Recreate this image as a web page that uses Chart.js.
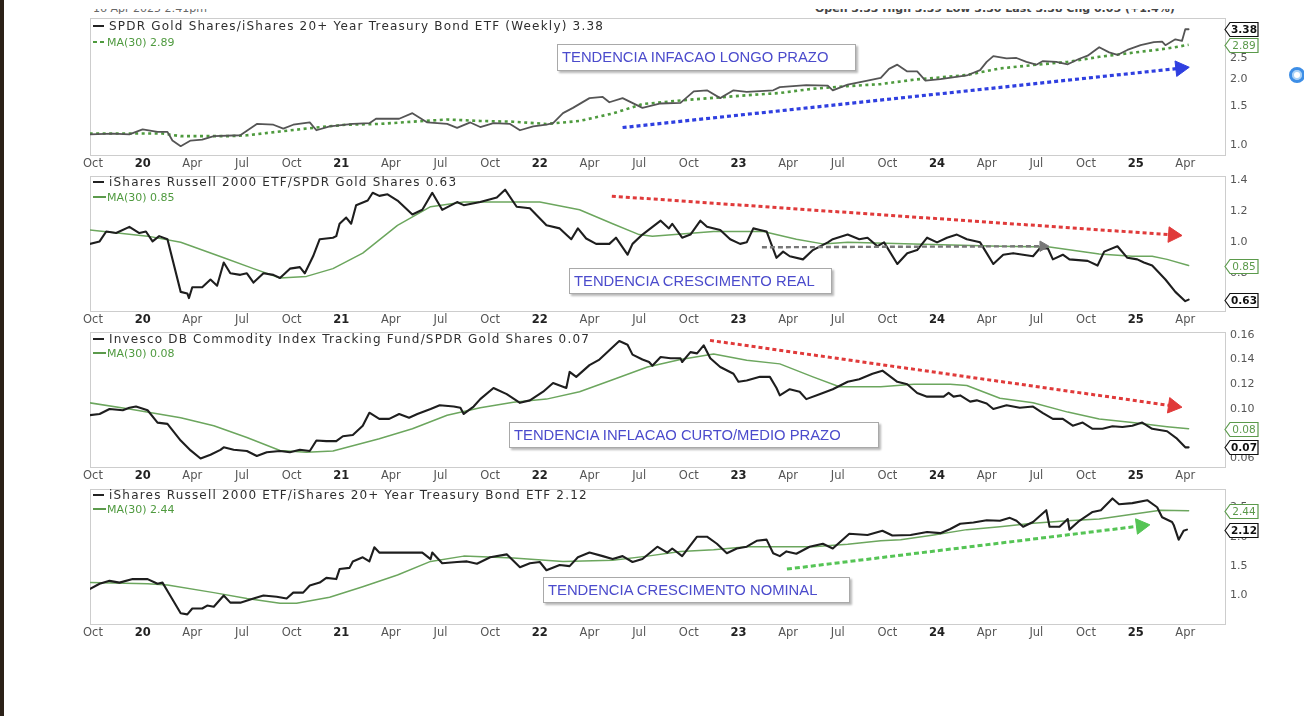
<!DOCTYPE html>
<html>
<head>
<meta charset="utf-8">
<script src="https://cdn.jsdelivr.net/npm/chart.js@4.4.1/dist/chart.umd.min.js"></script>
<style>
html,body{margin:0;padding:0;background:#fff;width:1304px;height:716px;overflow:hidden;}
body{position:relative;font-family:"DejaVu Sans",sans-serif;}
canvas.pc{position:absolute;left:0;}
.leg{position:absolute;left:93px;white-space:nowrap;display:flex;align-items:center;height:14px;}
.leg .t1{font-size:12px;letter-spacing:1.2px;color:#2e2e2e;margin-left:5px;}
.leg .t2{font-size:11px;color:#4f9a3f;margin-left:1px;}
.mk1{width:11px;height:2px;background:#222;}
.mk2{width:13px;height:2px;background:#5b9a4b;}
.mk3{width:13px;height:2px;background:repeating-linear-gradient(90deg,#4e9a3e 0 4px,transparent 4px 7px);}
.box{position:absolute;border:1px solid #a9a9a9;background:#fff;box-shadow:2px 2px 2px rgba(0,0,0,0.28);
 font-family:"Liberation Sans",Arial,sans-serif;font-size:14.8px;color:#4b4bcc;line-height:25px;padding-left:4px;box-sizing:border-box;white-space:nowrap;}
#leftbar{position:absolute;left:0;top:0;width:4px;height:716px;background:#2b2118;}
.clipTop{position:absolute;top:9px;height:6px;overflow:hidden;white-space:nowrap;}
.clipTop span{display:block;margin-top:-7px;font-size:11px;line-height:13px;color:#666;}
#icon{position:absolute;left:1289px;top:67px;width:10px;height:10px;border-radius:50%;border:3px solid #3d8ee6;box-shadow:inset 0 0 0 2px #a9d2f7;}
</style>
</head>
<body>
<div id="leftbar"></div>
<div class="clipTop" style="left:93px;"><span>16 Apr 2025 2:41pm</span></div>
<div class="clipTop" style="left:815px;"><span style="font-weight:bold;color:#444">Open 3.33 High 3.39 Low 3.30 Last 3.38 Chg 0.05 (+1.4%)</span></div>
<div id="icon"></div>

<canvas class="pc" id="p1" width="1304" height="167" style="top:7px"></canvas>
<canvas class="pc" id="p2" width="1304" height="165" style="top:165px"></canvas>
<canvas class="pc" id="p3" width="1304" height="165" style="top:321px"></canvas>
<canvas class="pc" id="p4" width="1304" height="165" style="top:478px"></canvas>

<div class="leg" style="top:19px"><div class="mk1"></div><span class="t1">SPDR Gold Shares/iShares 20+ Year Treasury Bond ETF (Weekly) 3.38</span></div>
<div class="leg" style="top:35px"><div class="mk3"></div><span class="t2">MA(30) 2.89</span></div>
<div class="leg" style="top:175px"><div class="mk1"></div><span class="t1">iShares Russell 2000 ETF/SPDR Gold Shares 0.63</span></div>
<div class="leg" style="top:190px"><div class="mk2"></div><span class="t2">MA(30) 0.85</span></div>
<div class="leg" style="top:332px"><div class="mk1"></div><span class="t1">Invesco DB Commodity Index Tracking Fund/SPDR Gold Shares 0.07</span></div>
<div class="leg" style="top:346px"><div class="mk2"></div><span class="t2">MA(30) 0.08</span></div>
<div class="leg" style="top:488px"><div class="mk1"></div><span class="t1">iShares Russell 2000 ETF/iShares 20+ Year Treasury Bond ETF 2.12</span></div>
<div class="leg" style="top:502px"><div class="mk2"></div><span class="t2">MA(30) 2.44</span></div>

<div class="box" style="left:557px;top:44px;width:299px;height:27px;">TENDENCIA INFACAO LONGO PRAZO</div>
<div class="box" style="left:569px;top:268px;width:263px;height:26px;">TENDENCIA CRESCIMENTO REAL</div>
<div class="box" style="left:509px;top:422px;width:370px;height:26px;">TENDENCIA INFLACAO CURTO/MEDIO PRAZO</div>
<div class="box" style="left:543px;top:577px;width:307px;height:26px;">TENDENCIA CRESCIMENTO NOMINAL</div>

<script>
// ---- x axis: months since Oct 2019 ----
const xTickMonths = [0,3,6,9,12,15,18,21,24,27,30,33,36,39,42,45,48,51,54,57,60,63,66];
const xTickLabels = ['Oct','20','Apr','Jul','Oct','21','Apr','Jul','Oct','22','Apr','Jul','Oct','23','Apr','Jul','Oct','24','Apr','Jul','Oct','25','Apr'];

// ---- y tick values ----
const p1Ticks = [1.0,1.5,2.0,2.5];
const p2Ticks = [0.8,1.0,1.2,1.4];
const p3Ticks = [0.06,0.08,0.10,0.12,0.14,0.16];
const p4Ticks = [1.0,1.5,2.0,2.5];

// ---- series: [month, value] ----
const gldTlt = [[-0.2,1.12],[1.2,1.13],[2.2,1.12],[3.0,1.18],[3.9,1.15],[4.5,1.15],[4.8,1.05],[5.3,0.99],[5.9,1.05],[6.6,1.06],[7.3,1.10],[8.9,1.11],[9.9,1.25],[10.9,1.24],[11.5,1.19],[12.1,1.24],[13.1,1.27],[13.5,1.17],[14.3,1.22],[15.7,1.25],[16.7,1.26],[17.1,1.32],[18.5,1.32],[19.3,1.40],[20.2,1.27],[21.4,1.25],[22.0,1.20],[22.8,1.27],[23.4,1.21],[24.2,1.26],[25.2,1.25],[25.8,1.17],[26.6,1.22],[27.4,1.24],[27.8,1.26],[28.4,1.40],[29.0,1.48],[30.0,1.64],[30.8,1.66],[31.2,1.57],[32.0,1.64],[33.2,1.48],[34.3,1.55],[35.5,1.56],[36.3,1.76],[37.1,1.78],[37.9,1.64],[38.7,1.78],[39.5,1.75],[41.1,1.78],[41.5,1.84],[43.1,1.88],[44.4,1.87],[44.7,1.78],[45.6,1.89],[46.8,1.97],[47.6,2.03],[48.1,2.23],[48.6,2.33],[49.2,2.17],[49.8,2.17],[50.3,1.97],[51.2,2.00],[52.8,2.08],[53.6,2.20],[54.0,2.40],[54.4,2.55],[55.2,2.49],[55.8,2.50],[56.4,2.40],[57.0,2.33],[57.4,2.42],[58.2,2.40],[58.9,2.34],[59.6,2.48],[60.1,2.56],[60.8,2.80],[61.4,2.65],[61.9,2.58],[62.5,2.72],[63.3,2.86],[64.1,2.95],[64.6,2.97],[64.8,2.86],[65.4,3.04],[65.8,2.99],[66.0,3.38],[66.2,3.38]];
const gldTltMa = [[-0.2,1.13],[4.2,1.13],[5.3,1.10],[8.3,1.10],[9.3,1.11],[11.3,1.155],[13.3,1.20],[15.3,1.24],[17.3,1.25],[19.3,1.28],[21.4,1.31],[23.4,1.29],[25.4,1.28],[27.4,1.25],[29.4,1.29],[31.4,1.395],[33.2,1.54],[35.5,1.60],[37.5,1.645],[39.5,1.69],[41.5,1.73],[43.5,1.81],[45.6,1.86],[47.6,1.90],[49.6,1.99],[52.8,2.09],[54.8,2.24],[56.8,2.32],[58.9,2.40],[60.8,2.53],[62.8,2.64],[64.9,2.76],[66.2,2.87]];

const iwmGld = [[-0.2,0.99],[0.4,1.006],[0.8,1.07],[1.4,1.06],[2.2,1.10],[2.8,1.06],[3.2,1.07],[3.6,1.006],[4.0,1.04],[4.5,1.02],[5.3,0.68],[5.7,0.67],[5.8,0.64],[6.0,0.71],[6.6,0.71],[7.1,0.76],[7.5,0.72],[7.9,0.87],[8.3,0.80],[8.9,0.79],[9.3,0.80],[9.7,0.74],[10.3,0.80],[10.9,0.79],[11.3,0.77],[11.9,0.83],[12.5,0.84],[12.8,0.80],[13.3,0.91],[13.7,1.02],[14.5,1.03],[14.7,1.04],[14.9,1.12],[15.3,1.16],[15.6,1.12],[15.9,1.24],[16.6,1.27],[16.9,1.32],[17.3,1.30],[17.8,1.31],[18.4,1.27],[19.3,1.18],[19.9,1.21],[20.5,1.32],[21.1,1.21],[22.0,1.26],[22.4,1.24],[23.4,1.26],[24.4,1.29],[24.9,1.34],[25.6,1.23],[26.4,1.22],[27.4,1.11],[28.2,1.09],[28.9,1.02],[29.3,1.09],[29.8,1.025],[30.4,0.99],[31.2,0.99],[31.6,1.03],[32.3,0.92],[32.6,0.99],[33.2,1.05],[34.3,1.14],[34.8,1.09],[35.0,1.12],[35.6,1.03],[36.1,1.05],[36.7,1.14],[37.1,1.10],[37.9,1.08],[38.5,1.02],[39.1,0.99],[39.5,1.00],[39.9,1.09],[40.3,1.08],[40.7,1.07],[41.3,0.90],[41.7,0.94],[42.1,0.91],[42.9,0.89],[43.5,0.95],[44.4,1.00],[44.7,1.02],[45.6,1.05],[46.3,1.02],[46.8,1.03],[47.4,0.975],[47.8,1.00],[48.6,0.86],[49.2,0.93],[49.8,0.95],[50.4,1.03],[51.0,1.00],[51.6,1.03],[52.2,1.05],[52.8,1.02],[53.6,1.00],[54.0,0.93],[54.4,0.86],[55.0,0.92],[55.6,0.93],[56.2,0.92],[56.8,0.91],[57.2,0.96],[57.7,0.96],[58.0,0.89],[58.6,0.92],[59.0,0.89],[60.1,0.88],[60.7,0.85],[61.1,0.94],[61.9,0.975],[62.5,0.90],[63.1,0.89],[63.5,0.87],[64.0,0.85],[64.8,0.76],[65.4,0.68],[66.0,0.62],[66.2,0.63]];
const iwmGldMa = [[-0.2,1.08],[3.3,1.04],[5.3,1.00],[7.9,0.90],[9.7,0.83],[11.3,0.77],[12.9,0.78],[14.5,0.83],[16.3,0.93],[18.4,1.11],[20.4,1.23],[22.4,1.26],[25.4,1.26],[27.0,1.26],[29.4,1.21],[31.4,1.12],[33.0,1.05],[33.8,1.04],[37.5,1.07],[40.5,1.07],[42.5,1.02],[44.1,0.99],[45.6,1.00],[49.6,0.99],[54.8,0.975],[57.8,0.97],[60.8,0.925],[62.8,0.91],[64.0,0.91],[64.9,0.89],[66.2,0.85]];

const dbcGld = [[-0.2,0.095],[0.4,0.096],[1.0,0.100],[1.8,0.099],[2.2,0.101],[2.6,0.102],[3.3,0.099],[3.9,0.089],[4.5,0.088],[5.3,0.0745],[5.9,0.0665],[6.5,0.060],[7.1,0.063],[7.7,0.067],[7.9,0.069],[8.5,0.067],[9.3,0.066],[9.9,0.062],[10.5,0.065],[11.3,0.066],[11.9,0.065],[12.5,0.067],[13.1,0.066],[13.5,0.0745],[14.1,0.074],[14.7,0.074],[15.1,0.078],[15.7,0.079],[16.3,0.0864],[16.7,0.097],[17.3,0.092],[17.9,0.092],[18.5,0.096],[19.1,0.093],[19.6,0.096],[20.4,0.100],[20.95,0.103],[21.8,0.102],[22.2,0.101],[22.4,0.096],[23.0,0.102],[23.4,0.108],[24.2,0.117],[25.0,0.112],[25.8,0.105],[26.4,0.107],[27.2,0.114],[27.8,0.121],[28.6,0.117],[28.8,0.130],[29.2,0.126],[30.0,0.1355],[30.6,0.140],[31.2,0.1475],[31.8,0.155],[32.3,0.152],[32.6,0.144],[33.2,0.140],[33.6,0.138],[33.8,0.135],[34.3,0.142],[34.9,0.141],[35.5,0.141],[35.6,0.138],[36.1,0.146],[36.5,0.145],[36.9,0.1515],[37.3,0.141],[37.9,0.134],[38.7,0.1285],[39.0,0.122],[39.5,0.123],[40.3,0.126],[40.9,0.126],[41.3,0.117],[41.5,0.111],[42.1,0.116],[42.7,0.114],[43.1,0.108],[43.9,0.112],[44.7,0.116],[45.6,0.122],[46.3,0.124],[47.1,0.1285],[47.7,0.131],[48.6,0.122],[49.2,0.120],[49.8,0.113],[50.4,0.110],[50.8,0.110],[51.4,0.110],[51.7,0.113],[52.0,0.110],[52.4,0.111],[53.0,0.106],[53.4,0.107],[54.0,0.1045],[54.4,0.100],[55.2,0.103],[56.0,0.101],[56.8,0.102],[57.4,0.0967],[58.0,0.092],[58.6,0.092],[59.2,0.0865],[59.8,0.089],[60.4,0.084],[61.0,0.084],[61.6,0.086],[62.2,0.0855],[62.8,0.0865],[63.4,0.089],[64.0,0.084],[64.9,0.082],[65.5,0.076],[66.0,0.069],[66.2,0.069]];
const dbcGldMa = [[-0.2,0.105],[2.2,0.100],[5.3,0.093],[7.3,0.0865],[9.3,0.077],[11.3,0.0665],[12.9,0.065],[14.5,0.066],[17.3,0.076],[19.3,0.084],[21.4,0.095],[23.4,0.101],[25.4,0.1055],[27.4,0.108],[29.4,0.114],[31.4,0.1237],[33.5,0.134],[35.5,0.140],[37.5,0.1445],[39.5,0.1395],[41.5,0.1365],[43.5,0.126],[45.1,0.118],[47.6,0.118],[49.6,0.120],[51.8,0.120],[52.8,0.119],[54.8,0.1087],[56.8,0.105],[58.9,0.0975],[60.8,0.092],[62.8,0.089],[64.9,0.0857],[66.2,0.084]];

const iwmTlt = [[-0.2,1.11],[0.4,1.20],[1.0,1.25],[1.6,1.22],[2.4,1.28],[3.3,1.28],[3.9,1.20],[4.2,1.22],[4.6,1.03],[5.3,0.70],[5.7,0.68],[6.0,0.78],[6.6,0.78],[6.9,0.83],[7.3,0.81],[7.9,1.00],[8.3,0.88],[8.9,0.88],[9.7,0.95],[10.3,1.00],[11.1,0.98],[11.7,0.95],[12.1,1.05],[12.7,1.05],[13.1,1.17],[13.7,1.22],[14.1,1.30],[14.7,1.28],[14.9,1.45],[15.5,1.47],[15.7,1.58],[16.3,1.65],[16.7,1.58],[17.0,1.82],[17.3,1.73],[18.5,1.73],[19.9,1.73],[20.4,1.62],[20.5,1.73],[21.1,1.55],[22.0,1.57],[22.6,1.58],[23.2,1.54],[24.0,1.65],[25.0,1.70],[25.8,1.48],[26.4,1.55],[27.0,1.57],[27.4,1.43],[28.2,1.52],[28.8,1.50],[29.3,1.65],[30.0,1.73],[30.8,1.67],[31.4,1.62],[32.0,1.67],[32.6,1.57],[33.2,1.62],[34.1,1.83],[34.7,1.73],[35.0,1.80],[35.6,1.67],[36.5,2.00],[37.1,2.00],[37.7,1.88],[38.3,1.72],[38.9,1.80],[39.5,1.83],[40.1,1.93],[40.7,1.95],[41.1,1.72],[41.5,1.67],[41.9,1.75],[42.5,1.71],[43.3,1.83],[44.1,1.88],[44.7,1.80],[45.7,2.05],[46.8,2.03],[47.7,2.10],[48.3,2.02],[49.4,2.03],[50.4,2.08],[51.2,2.06],[51.8,2.13],[52.4,2.22],[53.2,2.24],[54.0,2.28],[54.8,2.27],[55.4,2.32],[55.8,2.27],[56.2,2.17],[56.8,2.25],[57.6,2.45],[57.8,2.17],[58.4,2.17],[58.9,2.30],[59.0,2.12],[59.6,2.27],[60.4,2.42],[60.9,2.45],[61.6,2.65],[62.0,2.55],[62.8,2.57],[63.7,2.62],[64.3,2.50],[64.6,2.33],[65.2,2.25],[65.3,2.20],[65.6,1.95],[65.9,2.10],[66.1,2.12]];
const iwmTltMa = [[-0.2,1.22],[3.3,1.20],[4.5,1.18],[7.3,1.05],[9.3,0.95],[11.3,0.87],[12.3,0.87],[14.3,0.97],[16.3,1.15],[18.4,1.35],[20.4,1.58],[22.4,1.67],[25.4,1.64],[28.4,1.58],[31.4,1.60],[33.5,1.67],[35.5,1.75],[37.5,1.78],[39.5,1.83],[41.5,1.83],[43.5,1.83],[45.6,1.87],[47.6,1.93],[48.8,1.95],[50.8,2.03],[52.8,2.12],[54.8,2.17],[56.8,2.23],[58.9,2.27],[60.8,2.30],[62.8,2.38],[64.5,2.45],[66.2,2.44]];

// ---- trend annotations: [month, value] start / arrow-head centre ----
const trendLongInfl = [[32.0,1.204],[65.7,2.245]];
const trendRealGrowth = [[31.35,1.298],[65.26,1.048]];
const levelRealGrowth = [[40.42,0.968],[57.4,0.975]];
const trendShortInfl = [[37.28,0.1555],[65.26,0.1025]];
const trendNominal = [[41.93,1.45],[63.32,2.183]];

// ---- value tags ----
const tagLabels = {
  p1:['3.38','2.89'], p2:['0.63','0.85'], p3:['0.07','0.08'], p4:['2.12','2.44']
};

Chart.defaults.font.family = '"DejaVu Sans", sans-serif';
Chart.defaults.color = '#555';

const XMIN = -0.18, XMAX = 68.46;
const isYear = i => /^\d/.test(xTickLabels[i] || '');

function xScale() {
  return {
    type:'linear', min:XMIN, max:XMAX,
    grid:{display:false, drawTicks:false}, border:{display:false},
    afterBuildTicks: s => { s.ticks = xTickMonths.map(v => ({value:v})); },
    afterFit: s => { s.height = 18; },
    ticks:{
      autoSkip:false, maxRotation:0, minRotation:0, padding:1,
      callback:(v,i) => xTickLabels[i],
      font: c => ({size:11.5, weight: isYear(c.index) ? 'bold' : 'normal'}),
      color: c => isYear(c.index) ? '#222' : '#555'
    }
  };
}
function yScale(type, min, max, ticksArr, dec) {
  return {
    type, position:'right', min, max,
    grid:{display:false, drawTicks:false}, border:{display:false},
    afterBuildTicks: s => { s.ticks = ticksArr.map(v => ({value:v})); },
    afterFit: s => { s.width = 78; },
    ticks:{ autoSkip:false, padding:4, callback: v => Number(v).toFixed(dec), font:{size:11}, color:'#555' }
  };
}
const toPts = arr => arr.map(([x,y]) => ({x, y}));
function lineDs(arr, color, width, dash, order) {
  return {data:toPts(arr), borderColor:color, borderWidth:width, borderDash:dash || [],
    pointRadius:0, fill:false, tension:0, order, borderJoinStyle:'round', borderCapStyle: dash ? 'butt' : 'round'};
}
function arrowDs(arr, color, width, dash, headR, rot) {
  return {data:toPts(arr), borderColor:color, borderWidth:width, borderDash:dash, borderCapStyle:'butt',
    pointRadius:[0, headR], pointStyle:'triangle', pointRotation:rot,
    pointBackgroundColor:color, pointBorderColor:color, pointBorderWidth:1, fill:false, tension:0, order:0};
}
const frame = {
  id:'frame',
  beforeDatasetsDraw(chart) {
    const a = chart.chartArea, c = chart.ctx;
    c.save(); c.strokeStyle = '#cdcdcd'; c.lineWidth = 1;
    c.strokeRect(Math.round(a.left)+0.5, Math.round(a.top)+0.5, Math.round(a.right-a.left)-1, Math.round(a.bottom-a.top)-1);
    c.restore();
  }
};
function tagPlugin(labels) {
  return {
    id:'tags',
    afterDraw(chart) {
      const c = chart.ctx, a = chart.chartArea, ys = chart.scales.y;
      const specs = [
        {ds:1, text:labels[1], stroke:'#5b9a4b', fill:'#5b9a4b', bold:false},
        {ds:0, text:labels[0], stroke:'#111', fill:'#111', bold:true}
      ];
      specs.forEach(s => {
        const d = chart.data.datasets[s.ds].data;
        const y = Math.round(ys.getPixelForValue(d[d.length-1].y)) + 0.5;
        const L = a.right - 1, R = a.right + 32;
        c.save();
        c.beginPath();
        c.moveTo(L, y); c.lineTo(L+5, y-7); c.lineTo(R, y-7); c.lineTo(R, y+7); c.lineTo(L+5, y+7); c.closePath();
        c.fillStyle = '#fff'; c.fill();
        c.lineWidth = 1.2; c.strokeStyle = s.stroke; c.stroke();
        c.font = (s.bold ? 'bold ' : '') + '10.5px "DejaVu Sans"';
        c.fillStyle = s.fill; c.textAlign = 'center'; c.textBaseline = 'middle';
        c.fillText(s.text, (L + R) / 2 + 2.5, y + 0.5);
        c.restore();
      });
    }
  };
}
function makeChart(id, datasets, y, labels) {
  return new Chart(document.getElementById(id), {
    type:'line',
    data:{datasets},
    options:{
      responsive:false, animation:false, parsing:true,
      layout:{padding:{top:8, left:90, right:0, bottom:0}},
      plugins:{legend:{display:false}, tooltip:{enabled:false}},
      scales:{x:xScale(), y}
    },
    plugins:[frame, tagPlugin(labels)]
  });
}

makeChart('p1', [
  lineDs(gldTlt, '#555555', 1.8, null, 1),
  lineDs(gldTltMa, '#4e9a3e', 2.6, [3,3.5], 2),
  arrowDs(trendLongInfl, '#2f3fe0', 3.2, [4,3], 9, 83.8)
], yScale('logarithmic', 0.8928, 3.82, p1Ticks, 1), tagLabels.p1);

makeChart('p2', [
  lineDs(iwmGld, '#1e1e1e', 2.1, null, 1),
  lineDs(iwmGldMa, '#6ca65e', 1.5, null, 2),
  arrowDs(trendRealGrowth, '#e03a3a', 3, [4,3], 9, 94),
  arrowDs(levelRealGrowth, '#777777', 2.4, [5,3], 6, 90)
], yScale('linear', 0.550, 1.431, p2Ticks, 1), tagLabels.p2);

makeChart('p3', [
  lineDs(dbcGld, '#1e1e1e', 2.1, null, 1),
  lineDs(dbcGldMa, '#6ca65e', 1.5, null, 2),
  arrowDs(trendShortInfl, '#e03a3a', 3, [4,3], 9, 98.2)
], yScale('linear', 0.0523, 0.1626, p3Ticks, 2), tagLabels.p3);

makeChart('p4', [
  lineDs(iwmTlt, '#1e1e1e', 2.1, null, 1),
  lineDs(iwmTltMa, '#6ca65e', 1.5, null, 2),
  arrowDs(trendNominal, '#55c455', 3, [5,3], 9, 82.9)
], yScale('linear', 0.5, 2.817, p4Ticks, 1), tagLabels.p4);
</script>
</body>
</html>
